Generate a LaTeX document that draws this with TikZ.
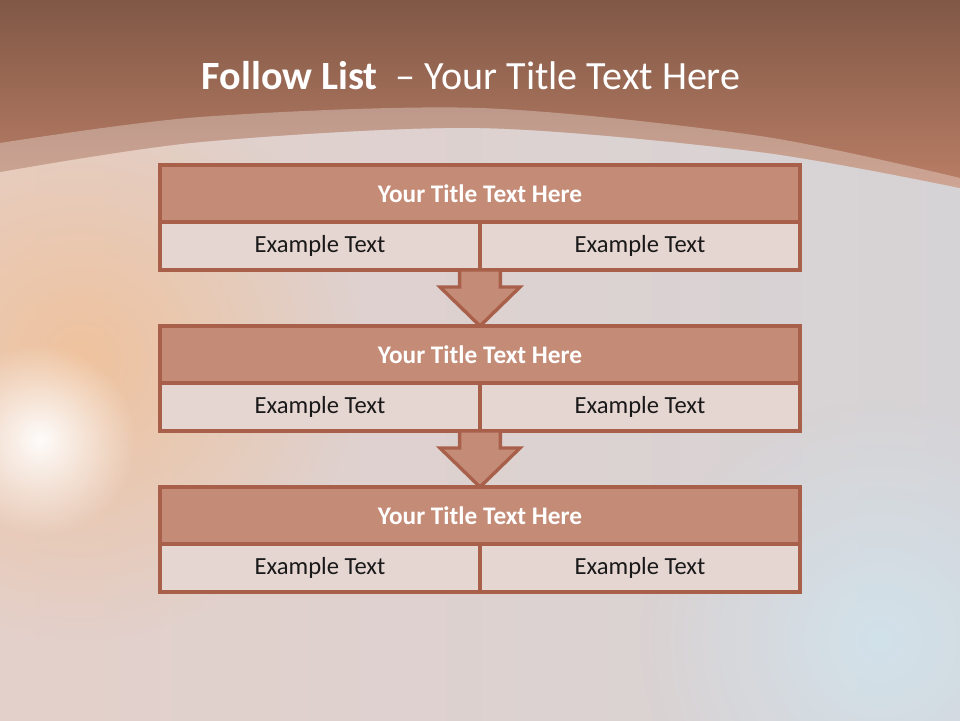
\documentclass[tikz,border=0pt]{standalone}
\usepackage{fontspec}
\setmainfont{Carlito}
\usepackage{tikz}
\usetikzlibrary{shapes,arrows,positioning,fadings}
\definecolor{titlebrown}{RGB}{196,139,119}
\definecolor{edgebrown}{RGB}{168,96,75}
\definecolor{cellpink}{RGB}{230,214,209}
\definecolor{topbrown}{RGB}{128,88,70}
\definecolor{lowbrown}{RGB}{186,126,102}
\definecolor{warmgrey}{RGB}{228,208,202}
\definecolor{coolgrey}{RGB}{214,211,214}
\tikzfading[name=glowfade, inner color=transparent!0, outer color=transparent!100]

\begin{document}
\begin{tikzpicture}[
    node distance=1.4cm,
    every node/.style={align=center},
    titlebox/.style={rectangle, minimum width=16cm, minimum height=1.425cm, outer sep=0pt, draw=edgebrown, fill=titlebrown, line width=2.4pt, text=white, font=\fontsize{18}{21}\selectfont\bfseries},
    cellbox/.style={rectangle, minimum width=8cm, minimum height=1.2cm, outer sep=0pt, draw=edgebrown, fill=cellpink, line width=2.4pt, text=black!90, font=\fontsize{17.5}{21}\selectfont},
    flow/.style={draw=edgebrown, fill=titlebrown, line width=2.4pt, line join=miter},
    glow/.style={path fading=glowfade}
]

% Background
\useasboundingbox (0,0) rectangle (24,18);
\shade[left color=warmgrey, right color=coolgrey] (0,0) rectangle (24,18);
\fill[orange!60!white, glow, opacity=0.45] (2,9) circle (7);
\fill[white, glow, opacity=0.95] (1,7) circle (2.4);
\fill[blue!30!cyan!20, glow, opacity=0.5] (22,2) circle (6);
\shade[top color=topbrown, bottom color=lowbrown]
    (0,18) -- (24,18) -- plot[smooth] coordinates {(24,13.3) (19,14.2) (12,14.8) (5,14.45) (0,13.7)} -- cycle;
\fill[white, opacity=0.3]
    plot[smooth] coordinates {(0,14.425) (5,15.075) (12,15.3) (19,14.6) (24,13.55)}
    -- plot[smooth] coordinates {(24,13.3) (19,14.2) (12,14.8) (5,14.45) (0,13.7)} -- cycle;

% Heading
\node[text=white, font=\fontsize{28.5}{32}\selectfont] (head) at (11.78,16.1) {{\bfseries Follow List}\ \ – Your Title Text Here};

% Lists
\node[titlebox] (t1) at (12,13.1625) {Your Title Text Here};
\node[cellbox, anchor=north west] (l1) at (t1.south west) {Example Text};
\node[cellbox, anchor=north east] (r1) at (t1.south east) {Example Text};

\node[titlebox, below=of l1.south east] (t2) {Your Title Text Here};
\node[cellbox, anchor=north west] (l2) at (t2.south west) {Example Text};
\node[cellbox, anchor=north east] (r2) at (t2.south east) {Example Text};

\node[titlebox, below=of l2.south east] (t3) {Your Title Text Here};
\node[cellbox, anchor=north west] (l3) at (t3.south west) {Example Text};
\node[cellbox, anchor=north east] (r3) at (t3.south east) {Example Text};

% Arrows
\draw[flow] (l1.south east) ++(-0.51,0) -- ++(0,-0.425) -- ++(-0.49,0) -- (t2.north) -- ++(1,0.975) -- ++(-0.49,0) -- ++(0,0.425) -- cycle;
\draw[flow] (l2.south east) ++(-0.51,0) -- ++(0,-0.425) -- ++(-0.49,0) -- (t3.north) -- ++(1,0.975) -- ++(-0.49,0) -- ++(0,0.425) -- cycle;

\end{tikzpicture}
\end{document}
